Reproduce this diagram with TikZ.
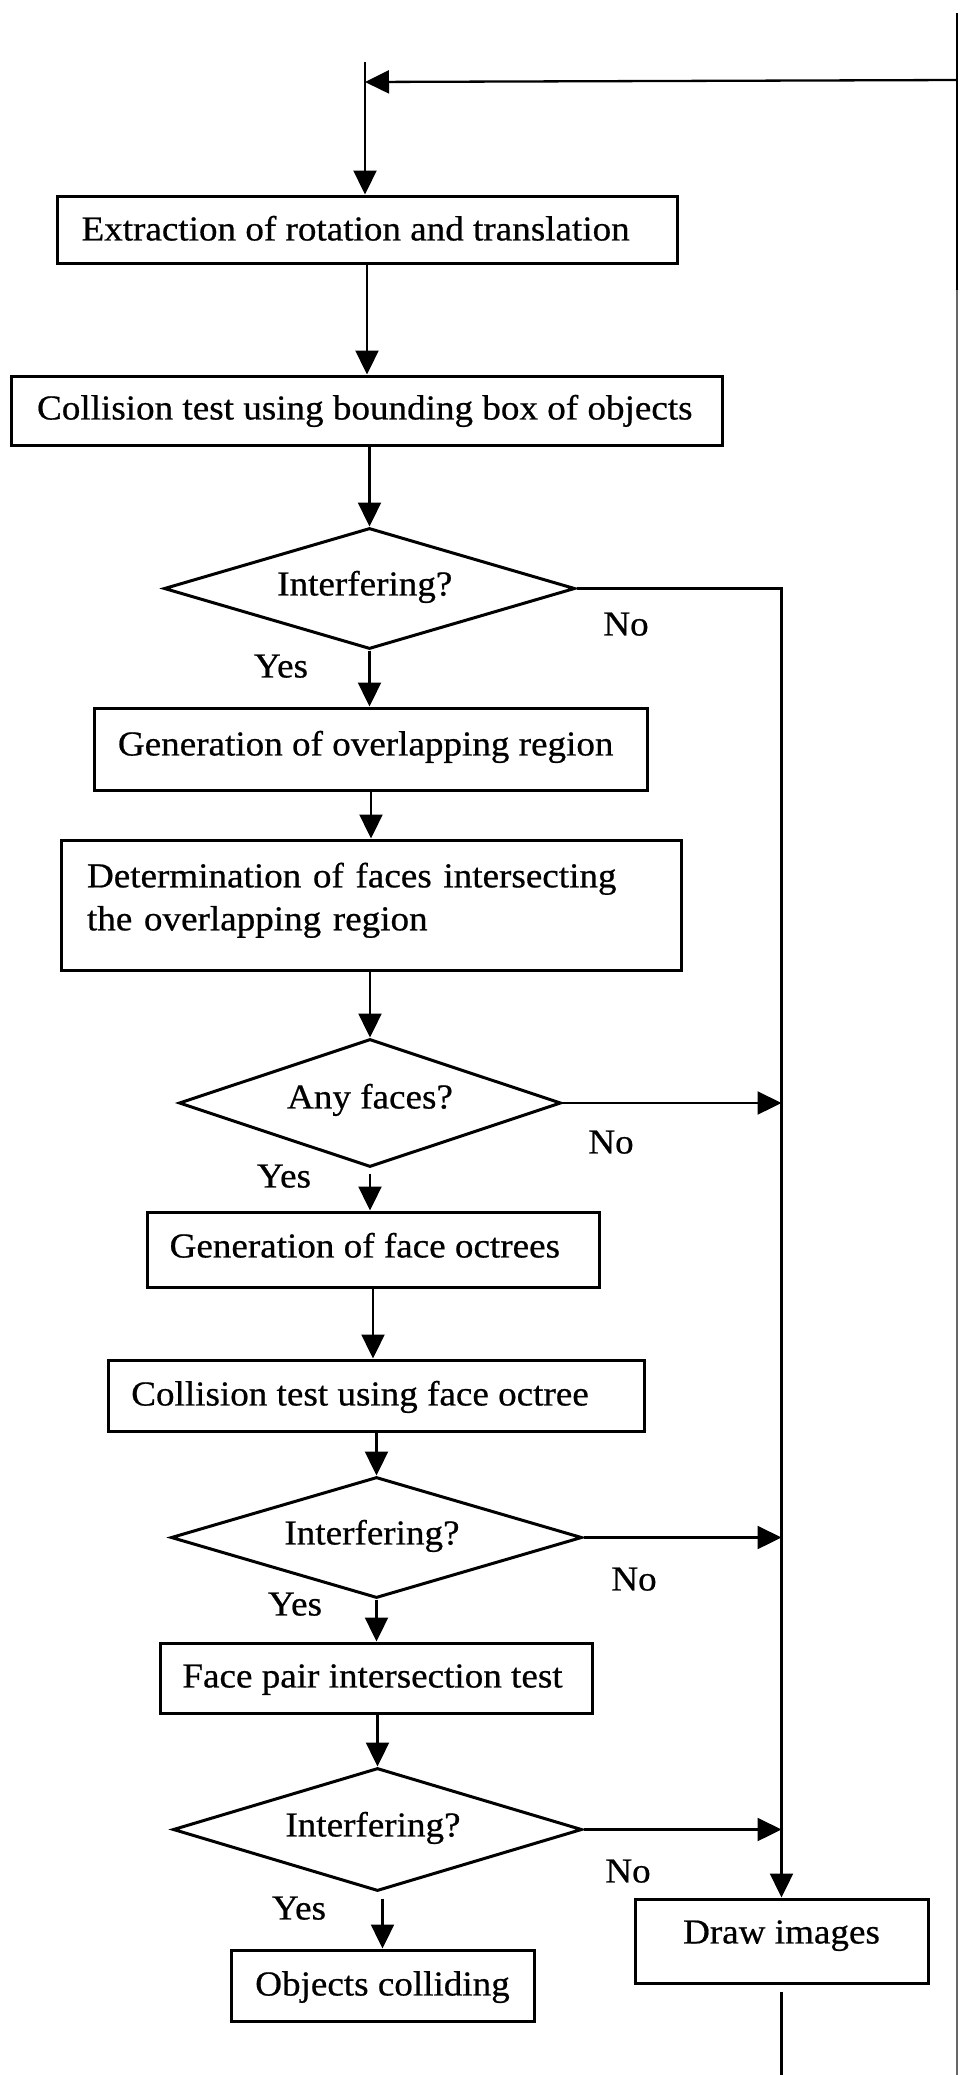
\documentclass[tikz,border=0pt]{standalone}
\usepackage{fontspec}
\setmainfont{Liberation Serif}[FakeStretch=1.06, FakeBold=0.6]
\usetikzlibrary{shapes.geometric,arrows.meta}
\begin{document}
\begin{tikzpicture}[x=1pt,y=-1pt,
  every node/.style={font=\fontsize{35}{43}\selectfont},
  box/.style={draw, line width=3pt, inner sep=0pt, rectangle},
  dia/.style={draw, line width=3pt, inner sep=0pt, diamond, shape aspect=3.4},
  capat/.style={text height=#1, text depth=0pt},
  lbl/.style={inner sep=0pt, text height=22.9pt, text depth=0pt},
  ln/.style={line width=2.3pt},
  arr/.style={line width=2.3pt, -{Triangle[length=24pt,width=23pt]}}]
\path[use as bounding box, fill=white] (0,0) rectangle (959,2075);

% coordinates of free ends
\coordinate (top) at (365,62);
\coordinate (rtop) at (957,13);
\coordinate (rmid) at (957,290);
\coordinate (rbot) at (957,2075);
\coordinate (fbstart) at (957,80);
\coordinate (fbtip) at (365,82);
\coordinate (bot) at (782,2075);

% nodes
\node[box, minimum width=620pt, minimum height=67pt, capat=21.9pt] (b1) at (367,229.5) {Extraction of rotation and translation\kern22.8pt};
\node[box, minimum width=711pt, minimum height=69pt, capat=17.9pt] (b2) at (366.5,410.5) {Collision test using bounding box of objects\kern3.4pt};
\node[dia, minimum width=411pt, minimum height=121pt, capat=13.9pt] (d1) at (369.5,588.5) {Interfering?\kern9.4pt};
\node[box, minimum width=553pt, minimum height=82pt, capat=12.9pt] (b3) at (370.5,749) {Generation of overlapping region\kern9.6pt};
\node[box, minimum width=620pt, minimum height=130pt, align=left, text width=568pt] (b4) at (371,905) {Determination of faces intersecting\\the overlapping region\rule[-17pt]{0pt}{0pt}};
\node[dia, minimum width=382pt, minimum height=128pt, capat=10.9pt] (d2) at (370,1103) {Any faces?};
\node[box, minimum width=452pt, minimum height=75pt, capat=15.9pt] (b5) at (373,1249.5) {Generation of face octrees\kern16.4pt};
\node[box, minimum width=536pt, minimum height=71pt, capat=19.9pt] (b6) at (376,1395.5) {Collision test using face octree\kern32pt};
\node[dia, minimum width=411pt, minimum height=121pt, capat=13.9pt] (d3) at (376.5,1537.5) {Interfering?\kern9pt};
\node[box, minimum width=432pt, minimum height=70pt, capat=18.9pt] (b7) at (376,1678) {Face pair intersection test\kern7pt};
\node[dia, minimum width=409pt, minimum height=123pt, capat=13.9pt] (d4) at (377.5,1829.5) {Interfering?\kern9pt};
\node[box, minimum width=303pt, minimum height=71pt, capat=19.9pt] (b8) at (382.5,1985.5) {Objects colliding};
\node[box, minimum width=293pt, minimum height=84pt, capat=4.9pt] (b9) at (781.5,1941) {Draw images};

% labels
\node[lbl] (no1) at (626,624) {No};
\node[lbl] (yes1) at (281,666) {Yes};
\node[lbl] (no2) at (611,1142) {No};
\node[lbl] (yes2) at (284,1176) {Yes};
\node[lbl] (no3) at (634,1579) {No};
\node[lbl] (yes3) at (295,1604) {Yes};
\node[lbl] (no4) at (628,1871) {No};
\node[lbl] (yes4) at (299,1908) {Yes};

% connectors
\draw[arr] (top) -- (top |- b1.north);
\draw[ln] (rtop) -- (rmid);
\draw[ln, black!60] (rmid) -- (rbot);
\draw[arr] (fbstart) -- (fbtip);
\draw[arr] (b1.south) -- (b1.south |- b2.north);
\draw[arr] (b2.south -| d1.north) -- (d1.north);
\draw[arr] (d1.east) -| (b9.north);
\draw[arr] (d1.south) -- (d1.south |- b3.north);
\draw[arr] (b3.south -| b4.north) -- (b4.north);
\draw[arr] (b4.south -| d2.north) -- (d2.north);
\draw[arr] (d2.east) -- (d2.east -| b9.north);
\draw[arr, shorten <=5pt] (d2.south) -- (d2.south |- b5.north);
\draw[arr] (b5.south) -- (b5.south |- b6.north);
\draw[arr] (b6.south -| d3.north) -- (d3.north);
\draw[arr] (d3.east) -- (d3.east -| b9.north);
\draw[arr] (d3.south) -- (d3.south |- b7.north);
\draw[arr] (b7.south -| d4.north) -- (d4.north);
\draw[arr] (d4.east) -- (d4.east -| b9.north);
\draw[arr, shorten <=6pt] (d4.south -| b8.north) -- (b8.north);
\draw[ln] ([yshift=-7pt]b9.south) -- (b9.south |- bot);
\end{tikzpicture}
\end{document}
